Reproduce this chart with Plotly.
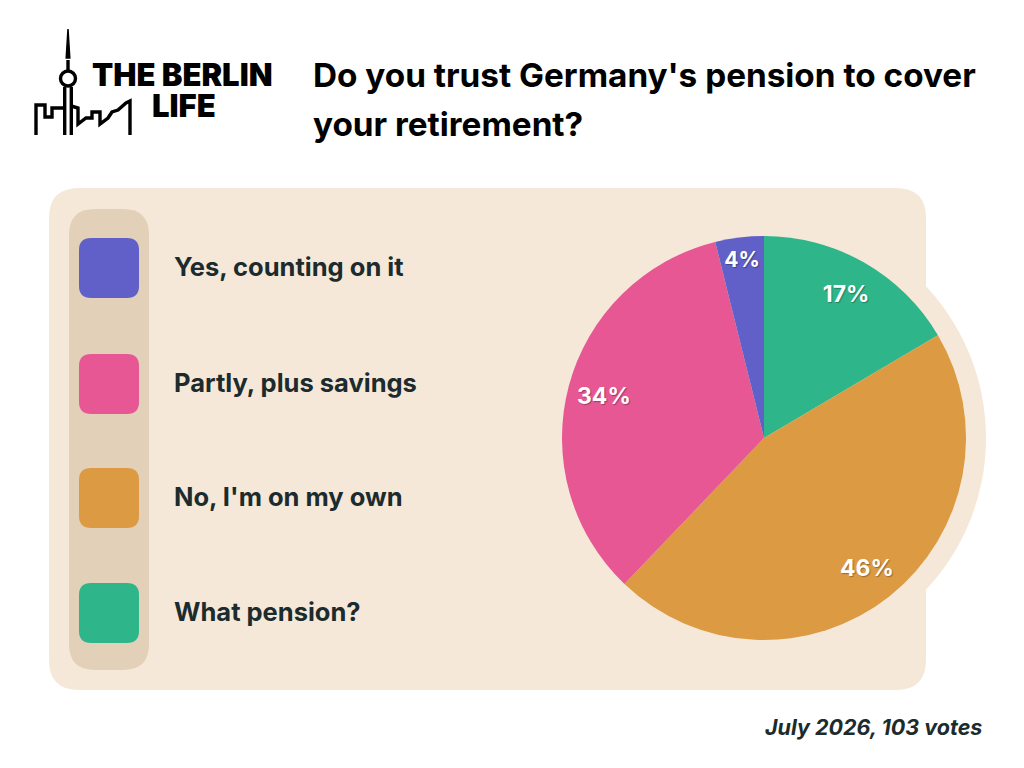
import plotly.graph_objects as go

# poll results, clockwise from 12 o'clock
labels = ["What pension?", "No, I'm on my own", "Partly, plus savings", "Yes, counting on it"]
votes = [17, 47, 35, 4]
colors = ["#2EB58A", "#DC9A42", "#E65793", "#6060C8"]

# legend order (top to bottom)
legend_labels = ["Yes, counting on it", "Partly, plus savings", "No, I'm on my own", "What pension?"]
legend_colors = ["#6060C8", "#E65793", "#DC9A42", "#2EB58A"]

title_lines = ["Do you trust Germany's pension to cover", "your retirement?"]
footer = "July 2026, 103 votes"

W, H = 1024, 768
OFF = 8  # page body margin
PANEL = "#F5E8D8"
COLUMN = "#E3D0B8"
INK = "#1C2B2D"
FONT = "Inter"


def px(x):
    return (x - OFF) / W


def py(y):
    return 1 - (y - OFF) / H


def rrect(x0, y0, x1, y1, r):
    # rounded rectangle path in paper coords (pixel input)
    pts = [
        ("M", x0 + r, y0), ("L", x1 - r, y0), ("Q", x1, y0, x1, y0 + r),
        ("L", x1, y1 - r), ("Q", x1, y1, x1 - r, y1), ("L", x0 + r, y1),
        ("Q", x0, y1, x0, y1 - r), ("L", x0, y0 + r), ("Q", x0, y0, x0 + r, y0),
    ]
    s = ""
    for p in pts:
        nums = p[1:]
        coords = ["%.5f,%.5f" % (px(nums[i]), py(nums[i + 1])) for i in range(0, len(nums), 2)]
        s += p[0] + " " + " ".join(coords) + " "
    return s + "Z"


def poly(points):
    return "M " + " L ".join("%.5f,%.5f" % (px(a), py(b)) for a, b in points)


cx, cy, R = 764, 438, 202
dom = dict(x=[px(cx - R), px(cx + R)], y=[py(cy + R), py(cy - R)])

fig = go.Figure()

# slices
fig.add_trace(go.Pie(
    labels=labels, values=votes, sort=False, direction="clockwise", rotation=0,
    marker=dict(colors=colors, line=dict(width=0)),
    textinfo="none", domain=dom, showlegend=False,
    hoverinfo="label+value+percent",
))
# transparent ring on top, only to carry the percentage labels near the rim
fig.add_trace(go.Pie(
    labels=labels, values=votes, sort=False, direction="clockwise", rotation=0, hole=0.64,
    marker=dict(colors=["rgba(0,0,0,0)"] * len(votes), line=dict(width=0)),
    texttemplate="%{percent:.0%}", textposition="inside", insidetextorientation="horizontal",
    textfont=dict(family=FONT, size=23, color="white", weight=700,
                  shadow="1px 1px 1px rgba(0,0,0,0.3)"),
    domain=dom, showlegend=False, hoverinfo="skip",
))

shapes = []
# panel and circle behind pie
shapes.append(dict(type="path", path=rrect(49, 188, 926, 690, 30), xref="paper", yref="paper",
                   fillcolor=PANEL, line=dict(width=0), layer="below"))
shapes.append(dict(type="circle", xref="paper", yref="paper",
                   x0=px(cx - 222), x1=px(cx + 222), y0=py(cy + 222), y1=py(cy - 222),
                   fillcolor=PANEL, line=dict(width=0), layer="below"))
# legend column
shapes.append(dict(type="path", path=rrect(69, 209, 149, 670, 26), xref="paper", yref="paper",
                   fillcolor=COLUMN, line=dict(width=0), layer="below"))

annotations = []
row_y = [268, 384, 498, 613]
for i, (lab, col) in enumerate(zip(legend_labels, legend_colors)):
    yc = row_y[i]
    shapes.append(dict(type="path", path=rrect(79, yc - 30, 139, yc + 30, 12), xref="paper",
                       yref="paper", fillcolor=col, line=dict(width=0)))
    annotations.append(dict(x=px(172), y=py(yc - 2), xref="paper", yref="paper", text=lab,
                            showarrow=False, xanchor="left", yanchor="middle",
                            font=dict(family=FONT, size=25.5, color=INK, weight=700)))

# logo: TV tower + skyline
logo = dict(color="black", width=3.4)
shapes.append(dict(type="path", path=poly([(66.2, 58), (68, 29), (69.8, 58)]) + " Z",
                   xref="paper", yref="paper", fillcolor="black", line=dict(color="black", width=1.5)))
shapes.append(dict(type="circle", xref="paper", yref="paper",
                   x0=px(60.5), x1=px(75.5), y0=py(86), y1=py(71), line=logo))
shapes.append(dict(type="path", path=poly([(68, 60), (68, 70)]), xref="paper", yref="paper", line=logo))
shapes.append(dict(type="path", path=poly([(64.7, 87), (64.7, 135)]), xref="paper", yref="paper", line=logo))
shapes.append(dict(type="path", path=poly([(71.3, 87), (71.3, 135)]), xref="paper", yref="paper", line=logo))
shapes.append(dict(type="path", path=poly([(36, 135), (36, 105), (45, 105), (45, 117), (52, 117),
                                           (52, 108), (64.7, 108)]),
                   xref="paper", yref="paper", line=logo))
shapes.append(dict(type="path", path=poly([(71.3, 106), (78, 108), (78, 124), (86, 118), (92, 118),
                                           (92, 112), (100, 112), (100, 124), (108, 118), (112, 112),
                                           (118, 110), (126, 103), (130, 101), (130, 135)]),
                   xref="paper", yref="paper", line=logo))

annotations.append(dict(x=px(90), y=py(74), xref="paper", yref="paper", text="THE BERLIN",
                        showarrow=False, xanchor="left", yanchor="middle", height=30,
                        font=dict(family=FONT, size=31, color="black", weight=900)))
annotations.append(dict(x=px(150), y=py(105), xref="paper", yref="paper", text="LIFE",
                        showarrow=False, xanchor="left", yanchor="middle", height=30,
                        font=dict(family=FONT, size=31, color="black", weight=900)))

# title
for i, line in enumerate(title_lines):
    annotations.append(dict(x=px(311), y=py(75 + 49 * i), xref="paper", yref="paper", text=line,
                            showarrow=False, xanchor="left", yanchor="middle",
                            font=dict(family=FONT, size=33.3, color="black", weight=700)))

# footer
annotations.append(dict(x=px(984), y=py(727), xref="paper", yref="paper", text=footer,
                        showarrow=False, xanchor="right", yanchor="middle",
                        font=dict(family=FONT, size=21.5, color=INK, weight=700, style="italic")))

fig.update_layout(
    width=W, height=H,
    margin=dict(l=0, r=0, t=0, b=0),
    paper_bgcolor="white",
    plot_bgcolor="white",
    shapes=shapes,
    annotations=annotations,
)

fig.write_html("out.html")
